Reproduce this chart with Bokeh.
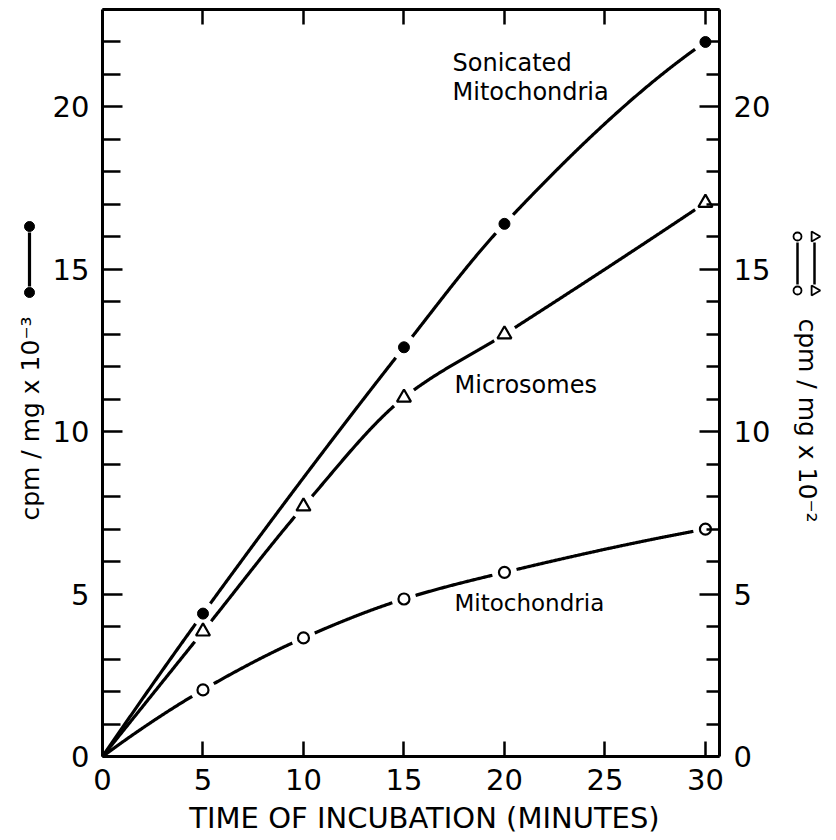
import numpy as np
from bokeh.plotting import figure
from bokeh.models import LinearAxis, FixedTicker, Range1d, Label
from bokeh.embed import file_html
from bokeh.resources import INLINE

# ---------------- data ----------------
time_ticks = [0, 5, 10, 15, 20, 25, 30]
y_ticks = [0, 5, 10, 15, 20]
y_minor = [v for v in range(0, 24) if v % 5 != 0]

soni_x = [0, 5, 15, 20, 30]
soni_y = [0, 4.4, 12.6, 16.4, 22.0]          # cpm/mg x 10^-3 (filled dots)

micro_x = [0, 5, 10, 15, 20, 30]
micro_y = [0, 3.85, 7.7, 11.05, 13.0, 17.05]  # cpm/mg x 10^-2 (triangles)

mito_x = [0, 5, 10, 15, 20, 30]
mito_y = [0, 2.05, 3.65, 4.85, 5.67, 7.0]     # cpm/mg x 10^-2 (open circles)

x_title = "TIME OF INCUBATION (MINUTES)"
left_title = "cpm / mg x 10\u207b\u00b3"
right_title = "cpm / mg x 10\u207b\u00b2"

X_MAX = 30.7
Y_MAX = 23.0
FONT = "DejaVu Sans"

# layout: axes box in page pixels
AX_L, AX_R, AX_T, AX_B = 103, 720, 10, 757
CANVAS_W, CANVAS_H = 822, 839
OFF = 1  # page px = canvas px + OFF
SX = (AX_R - AX_L) / X_MAX
SY = (AX_B - AX_T) / Y_MAX

px = lambda X: (X - AX_L) / SX
py = lambda Y: (AX_B - Y) / SY


def pchip(x, y, num=700):
    x = np.asarray(x, float)
    y = np.asarray(y, float)
    n = len(x)
    h = np.diff(x)
    d = np.diff(y) / h
    m = np.zeros(n)
    for k in range(1, n - 1):
        if d[k - 1] * d[k] > 0:
            w1 = 2 * h[k] + h[k - 1]
            w2 = h[k] + 2 * h[k - 1]
            m[k] = (w1 + w2) / (w1 / d[k - 1] + w2 / d[k])

    def end(h0, h1, d0, d1):
        mm = ((2 * h0 + h1) * d0 - h0 * d1) / (h0 + h1)
        if np.sign(mm) != np.sign(d0):
            mm = 0.0
        elif np.sign(d0) != np.sign(d1) and abs(mm) > abs(3 * d0):
            mm = 3 * d0
        return mm

    m[0] = end(h[0], h[1], d[0], d[1])
    m[-1] = end(h[-1], h[-2], d[-1], d[-2])
    xs = np.linspace(x[0], x[-1], num)
    idx = np.clip(np.searchsorted(x, xs, side="right") - 1, 0, n - 2)
    t = (xs - x[idx]) / h[idx]
    h00 = 2 * t**3 - 3 * t**2 + 1
    h10 = t**3 - 2 * t**2 + t
    h01 = -2 * t**3 + 3 * t**2
    h11 = t**3 - t**2
    ys = h00 * y[idx] + h10 * h[idx] * m[idx] + h01 * y[idx + 1] + h11 * h[idx] * m[idx + 1]
    return xs, ys


def gapped_curve(x, y, gap_px=12.0):
    xs, ys = pchip(x, y)
    keep = np.ones_like(xs, dtype=bool)
    for mx, my in zip(x[1:], y[1:]):
        dist = np.hypot((xs - mx) * SX, (ys - my) * SY)
        keep &= dist > gap_px
    xs = xs.copy()
    ys = ys.copy()
    xs[~keep] = np.nan
    ys[~keep] = np.nan
    return xs, ys


p = figure(width=CANVAS_W, height=CANVAS_H,
           x_range=Range1d(px(OFF), px(CANVAS_W + OFF)),
           y_range=Range1d(py(CANVAS_H + OFF), py(OFF)),
           x_axis_type=None, y_axis_type=None,
           output_backend="svg", toolbar_location=None,
           min_border=0, min_border_left=0, min_border_right=0,
           min_border_top=0, min_border_bottom=0)
p.xgrid.visible = False
p.ygrid.visible = False
p.outline_line_color = None
p.background_fill_color = "white"
p.border_fill_color = "white"


def make_axis(loc, bounds, ticks, minor, tick_in, minor_in, standoff):
    ax = LinearAxis(fixed_location=loc, bounds=bounds,
                    ticker=FixedTicker(ticks=ticks, minor_ticks=minor))
    ax.axis_line_width = 3
    ax.axis_line_color = "black"
    ax.major_tick_in = tick_in
    ax.major_tick_out = 0
    ax.minor_tick_in = minor_in
    ax.minor_tick_out = 0
    ax.major_tick_line_width = 2.5
    ax.minor_tick_line_width = 2.5
    ax.major_tick_line_color = "black"
    ax.minor_tick_line_color = "black"
    ax.major_label_text_font = FONT
    ax.major_label_text_color = "black"
    ax.major_label_text_font_size = "29px"
    ax.major_label_standoff = standoff
    return ax


p.add_layout(make_axis(0, (0, X_MAX), time_ticks, [], 15, 0, 12), "below")
p.add_layout(make_axis(0, (0, Y_MAX), y_ticks, y_minor, 20, 18, 13), "left")
p.add_layout(make_axis(X_MAX, (0, Y_MAX), y_ticks, y_minor, 20, 13, 14), "right")
p.add_layout(make_axis(Y_MAX, (0, X_MAX), [], time_ticks[1:], 0, 15, 0), "above")

# ---------------- curves ----------------
for xv, yv in [(soni_x, soni_y), (micro_x, micro_y), (mito_x, mito_y)]:
    cx, cy = gapped_curve(np.array(xv, float), np.array(yv, float))
    p.line(cx, cy, line_color="black", line_width=3.2)

p.scatter(soni_x[1:], soni_y[1:], marker="circle", size=11,
          fill_color="black", line_color="black")
p.scatter(micro_x[1:], micro_y[1:], marker="triangle", size=14,
          fill_color="white", line_color="black", line_width=2.2)
p.scatter(mito_x[1:], mito_y[1:], marker="circle", size=11,
          fill_color="white", line_color="black", line_width=2.2)


# ---------------- texts ----------------
def txt(x, y, s, size="24px", angle=0.0, align="left"):
    p.add_layout(Label(x=x, y=y, text=s, text_font=FONT, text_font_size=size,
                       text_color="black", text_align=align,
                       text_baseline="middle", angle=angle))


txt(px(453), py(63), "Sonicated")
txt(px(453), py(92), "Mitochondria")
txt(px(455), py(385), "Microsomes")
txt(px(455), py(603), "Mitochondria", size="23px")

txt(px(425), py(818), x_title, size="29px", align="center")
txt(px(31), py(419), left_title, size="25px", angle=np.pi / 2, align="center")
txt(px(808), py(421), right_title, size="25px", angle=-np.pi / 2, align="center")

# ---------------- legend keys beside the axis titles ----------------
# left: filled dot - line - filled dot
p.line([px(30), px(30)], [py(233), py(287)], line_color="black", line_width=3.2)
p.scatter([px(30), px(30)], [py(227), py(293)], marker="circle", size=10,
          fill_color="black", line_color="black")
# right: triangle line (outer) over circle line (inner)
p.line([px(815), px(815)], [py(243), py(285)], line_color="black", line_width=2.5)
p.line([px(798), px(798)], [py(243), py(285)], line_color="black", line_width=2.5)
p.scatter([px(815), px(815)], [py(237), py(291)], marker="triangle", size=10,
          angle=-np.pi / 2, fill_color="white", line_color="black", line_width=1.8)
p.scatter([px(798), px(798)], [py(237), py(291)], marker="circle", size=8,
          fill_color="white", line_color="black", line_width=1.8)

open("out.html", "w").write(file_html(p, INLINE))
